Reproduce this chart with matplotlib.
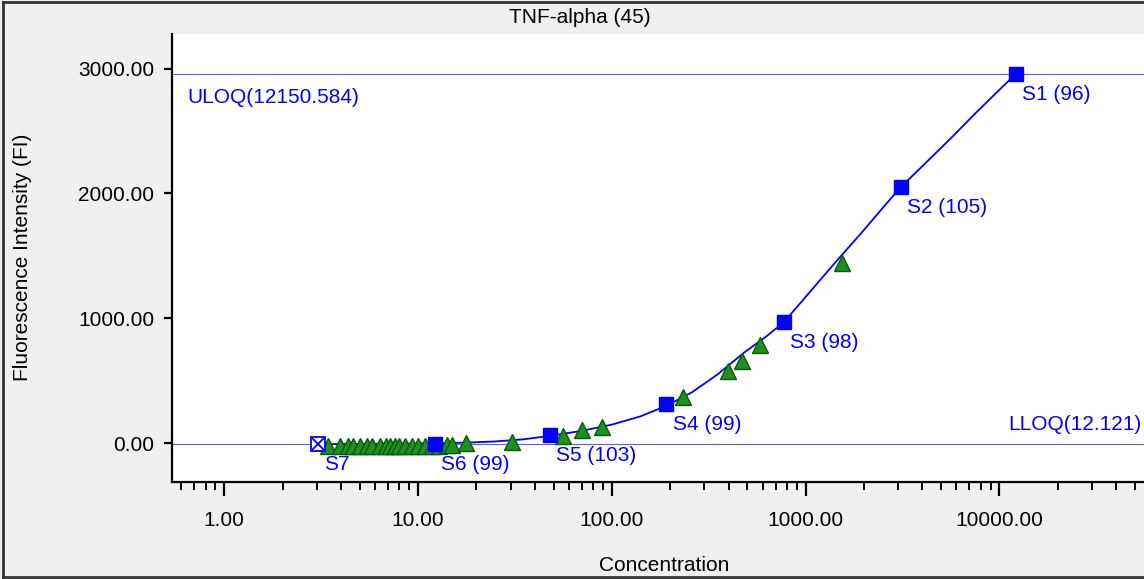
import matplotlib
matplotlib.use("Agg")
import matplotlib.pyplot as plt
from matplotlib.lines import Line2D
from matplotlib.ticker import LogLocator, FuncFormatter, NullFormatter

plt.rcParams['font.family'] = ['Liberation Sans', 'DejaVu Sans']

# standards (blue squares)
std_names = ["S1", "S2", "S3", "S4", "S5", "S6", "S7"]
std_recovery = [96, 105, 98, 99, 103, 99, None]
std_conc = [12150.584, 3104, 773, 191, 48, 12.2, 3.05]
std_fi = [2957, 2052, 971, 315, 66, -4, -5]

# fitted curve
curve_conc = [3.0, 5, 8, 12, 18, 25, 35, 48, 70, 100, 140, 191, 260, 350, 480,
              620, 773, 1000, 1400, 2000, 2600, 3104, 4200, 5600, 7500, 10000, 12150]
curve_fi = [-6, -5, -3, 0, 6, 15, 32, 60, 100, 150, 215, 300, 410, 550, 725,
            850, 971, 1172, 1436, 1708, 1916, 2052, 2250, 2440, 2640, 2830, 2957]

# samples (green triangles)
smp_conc = [3.43, 3.95, 4.35, 4.61, 5.0, 5.45, 5.78, 6.35, 6.8, 7.2, 7.6, 8.0,
            8.6, 9.3, 10.0, 10.9, 11.8, 12.8, 14.1, 15.0, 17.7, 30.5, 56, 70, 89,
            233, 398, 467, 581, 1540]
smp_fi = [-22, -22, -22, -22, -22, -22, -22, -22, -22, -22, -22, -22,
          -22, -20, -20, -20, -18, -18, -14, -12, 0, 13, 60, 106, 130,
          368, 581, 659, 787, 1442]

uloq_fi = 2956
lloq_fi = -8

fig = plt.figure(figsize=(11.44, 5.79), dpi=100, facecolor='#f0f0f0')
ax = fig.add_axes([0.1506, 0.167, 0.8494, 0.7738])
ax.set_facecolor('white')

blue = '#0000ff'
ax.axhline(uloq_fi, color='#5c5cff', lw=0.8, zorder=1)
ax.axhline(lloq_fi, color='#5c5cff', lw=0.8, zorder=1)

ax.plot(curve_conc, curve_fi, color=blue, lw=1.3, zorder=2)
ax.plot(smp_conc, smp_fi, linestyle='none', marker='^', markersize=11,
        markerfacecolor='#1f8f1f', markeredgecolor='#0a5a0a', markeredgewidth=1.0, zorder=3)
ax.plot(std_conc[:-1], std_fi[:-1], linestyle='none', marker='s', markersize=10.5,
        color=blue, zorder=4)
ax.plot(std_conc[-1:], std_fi[-1:], linestyle='none', marker='s', markersize=10,
        markerfacecolor='white', markeredgecolor=blue, markeredgewidth=1.3, zorder=4)
ax.plot(std_conc[-1:], std_fi[-1:], linestyle='none', marker='x', markersize=8,
        color=blue, markeredgewidth=1.3, zorder=5)

for name, rec, c, f in zip(std_names, std_recovery, std_conc, std_fi):
    label = name if rec is None else f"{name} ({rec})"
    ax.annotate(label, (c, f), xytext=(4.5, -15), textcoords='offset points',
                color=blue, fontsize=15, va='center', ha='left')

ax.text(0.016, 0.858, "ULOQ(12150.584)", transform=ax.transAxes, color=blue,
        fontsize=15, ha='left', va='center')
ax.text(0.997, 0.128, "LLOQ(12.121)", transform=ax.transAxes, color=blue,
        fontsize=15, ha='right', va='center')

ax.set_xscale('log')
ax.set_xlim(0.539, 55700)
ax.set_ylim(-312, 3274)
ax.xaxis.set_major_locator(LogLocator(base=10, numticks=10))
ax.xaxis.set_minor_locator(LogLocator(base=10, subs=range(2, 10), numticks=20))
ax.xaxis.set_major_formatter(FuncFormatter(lambda v, p: f"{v:.2f}"))
ax.xaxis.set_minor_formatter(NullFormatter())
ax.set_yticks([0, 1000, 2000, 3000])
ax.yaxis.set_major_formatter(FuncFormatter(lambda v, p: f"{v:.2f}"))

ax.tick_params(axis='both', which='major', labelsize=15, direction='out', width=1.6, colors='black')
ax.tick_params(axis='x', which='major', length=10, pad=11)
ax.tick_params(axis='y', which='major', length=6, pad=7)
ax.tick_params(axis='x', which='minor', length=6, width=1.4)
for s in ['top', 'right']:
    ax.spines[s].set_visible(False)
for s in ['left', 'bottom']:
    ax.spines[s].set_linewidth(1.6)

fig.text(0.507, 0.969, "TNF-alpha (45)", ha='center', va='center', fontsize=15)
fig.text(0.581, 0.024, "Concentration", ha='center', va='center', fontsize=15)
fig.text(0.020, 0.555, "Fluorescence Intensity (FI)", ha='center', va='center',
         fontsize=15, rotation=90)

# outer frame
for xs, ys in [([0.003, 0.003], [0.004, 0.996]), ([0.003, 1.0], [0.996, 0.996]),
               ([0.003, 1.0], [0.004, 0.004])]:
    fig.add_artist(Line2D(xs, ys, transform=fig.transFigure, color='#333333', lw=2))

fig.savefig("out.png", dpi=100, facecolor=fig.get_facecolor())
